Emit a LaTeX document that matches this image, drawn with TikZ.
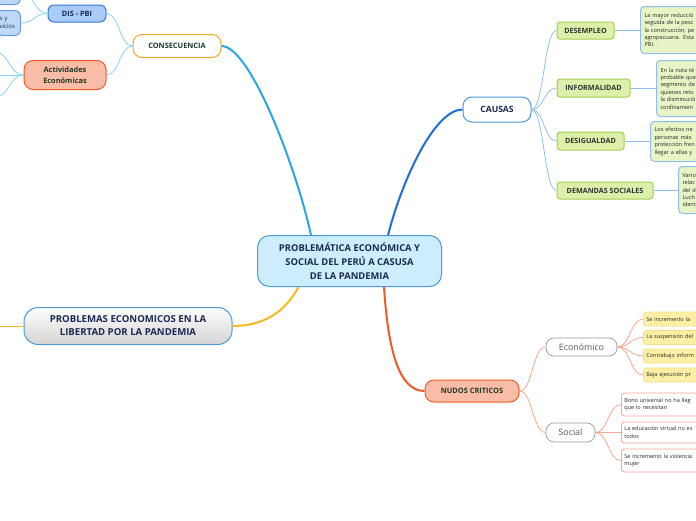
\documentclass[tikz,border=0pt]{standalone}
\usepackage{fontspec}
\setmainfont{Open Sans}
\usepackage{xcolor}
\usetikzlibrary{calc}

\definecolor{rootfill}{HTML}{CCEDFB}
\definecolor{rootline}{HTML}{4C9AD6}
\definecolor{navy}{HTML}{1B2A52}
\definecolor{darkgreen}{HTML}{1E3A2A}
\definecolor{sky}{HTML}{2AA5E2}
\definecolor{skylight}{HTML}{86D0F2}
\definecolor{causeblue}{HTML}{1F6ED6}
\definecolor{causelight}{HTML}{8FBEEE}
\definecolor{gold}{HTML}{F9B81B}
\definecolor{redorange}{HTML}{F05A28}
\definecolor{salmon}{HTML}{F8BCA7}
\definecolor{salmonline}{HTML}{F6A78D}
\definecolor{greenfill}{HTML}{DDF0A9}
\definecolor{greenline}{HTML}{A3CD55}
\definecolor{descfill}{HTML}{E6F4C6}
\definecolor{yellowfill}{HTML}{FDF0A6}
\definecolor{yellowline}{HTML}{F3DF88}
\definecolor{pbifill}{HTML}{A8CBF7}
\definecolor{pbiline}{HTML}{3577D1}
\definecolor{orangeline}{HTML}{F5A623}

\begin{document}
\begin{tikzpicture}[
    x=1pt, y=-1pt,
    every node/.style={align=center, inner sep=2pt},
    root/.style={draw=rootline, line width=1pt, fill=rootfill, rounded corners=12pt,
                 minimum width=184pt, minimum height=51pt, text=navy,
                 font=\fontsize{9.4}{14}\selectfont\bfseries},
    topic/.style={draw=#1, line width=1pt, fill=white, rounded corners=9pt,
                  minimum height=23pt, font=\fontsize{7.4}{8}\selectfont\bfseries},
    hot/.style={draw=redorange, line width=1pt, fill=salmon, rounded corners=9pt,
                text=darkgreen, font=\fontsize{7.4}{11}\selectfont\bfseries},
    cause/.style={draw=greenline, line width=1pt, fill=greenfill, rounded corners=3pt,
                  minimum height=17pt, text=black!80,
                  font=\fontsize{7.2}{8}\selectfont\bfseries},
    desc/.style={draw=causelight, line width=1pt, fill=descfill, rounded corners=4pt,
                 anchor=north west, align=left, inner sep=4pt, text width=88pt,
                 text=black!85, font=\fontsize{5.6}{7.4}\selectfont},
    kind/.style={draw=black!40, line width=0.7pt, fill=white, rounded corners=8pt,
                 minimum height=18pt, text=black!65, font=\fontsize{8.8}{9}\selectfont},
    leaf/.style={draw=#1, line width=0.8pt, rounded corners=3pt, anchor=west,
                 align=left, inner sep=3pt, text width=80pt, text=black!85,
                 font=\fontsize{5.5}{7.6}\selectfont},
    pbi/.style={draw=pbiline, line width=1pt, fill=pbifill, rounded corners=6pt},
    branch/.style={draw=#1, line width=2pt},
    twig/.style={draw=#1, line width=0.8pt,
                 to path={.. controls ($(\tikztostart)!0.5!(\tikztostart-|\tikztotarget)$)
                          and ($(\tikztotarget)!0.5!(\tikztotarget-|\tikztostart)$) .. (\tikztotarget)}},
]
\useasboundingbox (0,0) rectangle (696,520);
\clip (0,0) rectangle (696,520);

% central topic
\node[root] (central) at (349.5,261) {PROBLEMÁTICA ECONÓMICA Y\\SOCIAL DEL PERÚ A CASUSA\\DE LA PANDEMIA};

% main topics
\node[topic=orangeline, minimum width=88pt, text=darkgreen] (consec) at (177,46) {CONSECUENCIA};
\node[topic=rootline, minimum width=68pt, minimum height=25pt, text=navy,
      font=\fontsize{8.6}{9}\selectfont\bfseries] (causas) at (497,109.5) {CAUSAS};
\node[hot, minimum width=94pt, minimum height=22pt] (nudos) at (472,391) {NUDOS CRITICOS};
\node[draw=rootline, line width=1pt, top color=white!90!black!5, bottom color=black!17,
      rounded corners=14pt, minimum width=208pt, minimum height=37pt, text=navy,
      font=\fontsize{9.6}{13}\selectfont\bfseries] (problemas) at (128,326)
      {PROBLEMAS ECONOMICOS EN LA\\LIBERTAD POR LA PANDEMIA};

% consecuencia side
\node[pbi, minimum width=58pt, minimum height=17pt, text=navy,
      font=\fontsize{7.4}{8}\selectfont\bfseries] (dispbi) at (77,13.5) {DIS - PBI};
\node[hot, minimum width=82pt, minimum height=29pt] (actividades) at (65,75) {Actividades\\Económicas};
\node[pbi, fill=pbifill!75, draw=pbiline!75, anchor=south east, minimum width=40pt,
      minimum height=22pt] (pbitop) at (21,5) {};
\node[pbi, fill=pbifill!75, draw=pbiline!75, anchor=east, minimum height=25pt,
      text width=18pt, align=left, inner sep=3pt, text=navy,
      font=\fontsize{6}{8}\selectfont] (servicios) at (21,23) {s y\\vicios};
\coordinate (act1) at (-5,52);
\coordinate (act2) at (-5,75);
\coordinate (act3) at (-5,97);
\coordinate (plend) at (-2,326);

% causas side
\node[cause, minimum width=57pt] (desempleo) at (585.5,30.5) {DESEMPLEO};
\node[cause, minimum width=73pt, minimum height=18pt] (informalidad) at (593.5,88) {INFORMALIDAD};
\node[cause, minimum width=67pt, minimum height=18pt] (desigualdad) at (590.5,141) {DESIGUALDAD};
\node[cause, minimum width=96pt] (demandas) at (605,190.5) {DEMANDAS SOCIALES};

\node[desc, minimum height=47pt] (desc1) at (640,6) {La mayor reducció\\seguida de la pesc\\la construcción; pe\\agropecuaria. Esta\\PBI.};
\node[desc, minimum height=56pt] (desc2) at (656,60) {En la nota té\\probable que\\segmento de\\quienes reto\\la disminució\\confinamien};
\node[desc, minimum height=40pt] (desc3) at (650,121) {Los efectos ne\\personas más\\protección fren\\llegar a ellas y};
\node[desc, minimum height=47pt] (desc4) at (678,166) {Vario\\relac\\del d\\Luch\\ident};

% nudos criticos side
\node[kind, minimum width=71pt] (economico) at (581.5,347) {Económico};
\node[kind, minimum width=49pt, minimum height=19pt] (social) at (570.5,432.5) {Social};

\node[leaf=yellowline, fill=yellowfill, minimum height=14pt] (eco1) at (643,319) {Se incremento la};
\node[leaf=yellowline, fill=yellowfill, minimum height=14pt] (eco2) at (643,337.5) {La suspensión del};
\node[leaf=yellowline, fill=yellowfill, minimum height=14pt] (eco3) at (643,356) {Contrabajo inform};
\node[leaf=yellowline, fill=yellowfill, minimum height=14pt] (eco4) at (643,375) {Baja ejecución pr};

\node[leaf=salmonline, fill=white, minimum height=23pt] (soc1) at (621,404.5) {Bono universal no ha lleg\\que lo necesitan};
\node[leaf=salmonline, fill=white, minimum height=21pt] (soc2) at (621,432.5) {La educación virtual no es\\todos};
\node[leaf=salmonline, fill=white, minimum height=23pt] (soc3) at (621,460.5) {Se incremento la violencia\\mujer};

% main branches
\draw[branch=sky] (central.146) .. controls +(-14,-65) and +(29,0) .. (consec.east);
\draw[branch=causeblue] (central.34) .. controls +(14,-55) and +(-28,0) .. (causas.west);
\draw[branch=redorange] (central.-37) .. controls +(4,62) and +(-26,0) .. (nudos.west);
\draw[branch=gold] (central.207) .. controls +(-14,26) and +(30,0) .. (problemas.east);
\draw[gold, line width=1pt] (problemas.west) -- (plend);

% consecuencia links
\draw[twig=skylight] (consec.west) to (dispbi.east);
\draw[twig=skylight] (consec.west) to (actividades.east);
\draw[twig=skylight] (dispbi.west) to (pbitop.east);
\draw[twig=skylight] (dispbi.west) to (servicios.east);
\foreach \k in {act1,act2,act3}
  \draw[twig=skylight] (actividades.west) to (\k);

% causas links
\foreach \c in {desempleo,informalidad,desigualdad,demandas}
  \draw[twig=causelight] (causas.east) to (\c.west);
\draw[causelight, line width=1pt] (desempleo.east) -- (desempleo.east-|desc1.west);
\draw[causelight, line width=1pt] (informalidad.east) -- (informalidad.east-|desc2.west);
\draw[causelight, line width=1pt] (desigualdad.east) -- (desigualdad.east-|desc3.west);
\draw[causelight, line width=1pt] (demandas.east) -- (demandas.east-|desc4.west);

% nudos links
\draw[twig=salmonline] (nudos.east) to (economico.west);
\draw[twig=salmonline] (nudos.east) to (social.west);
\foreach \e in {eco1,eco2,eco3,eco4}
  \draw[twig=salmonline] (economico.east) to (\e.west);
\foreach \s in {soc1,soc2,soc3}
  \draw[twig=salmonline] (social.east) to (\s.west);

\end{tikzpicture}
\end{document}
